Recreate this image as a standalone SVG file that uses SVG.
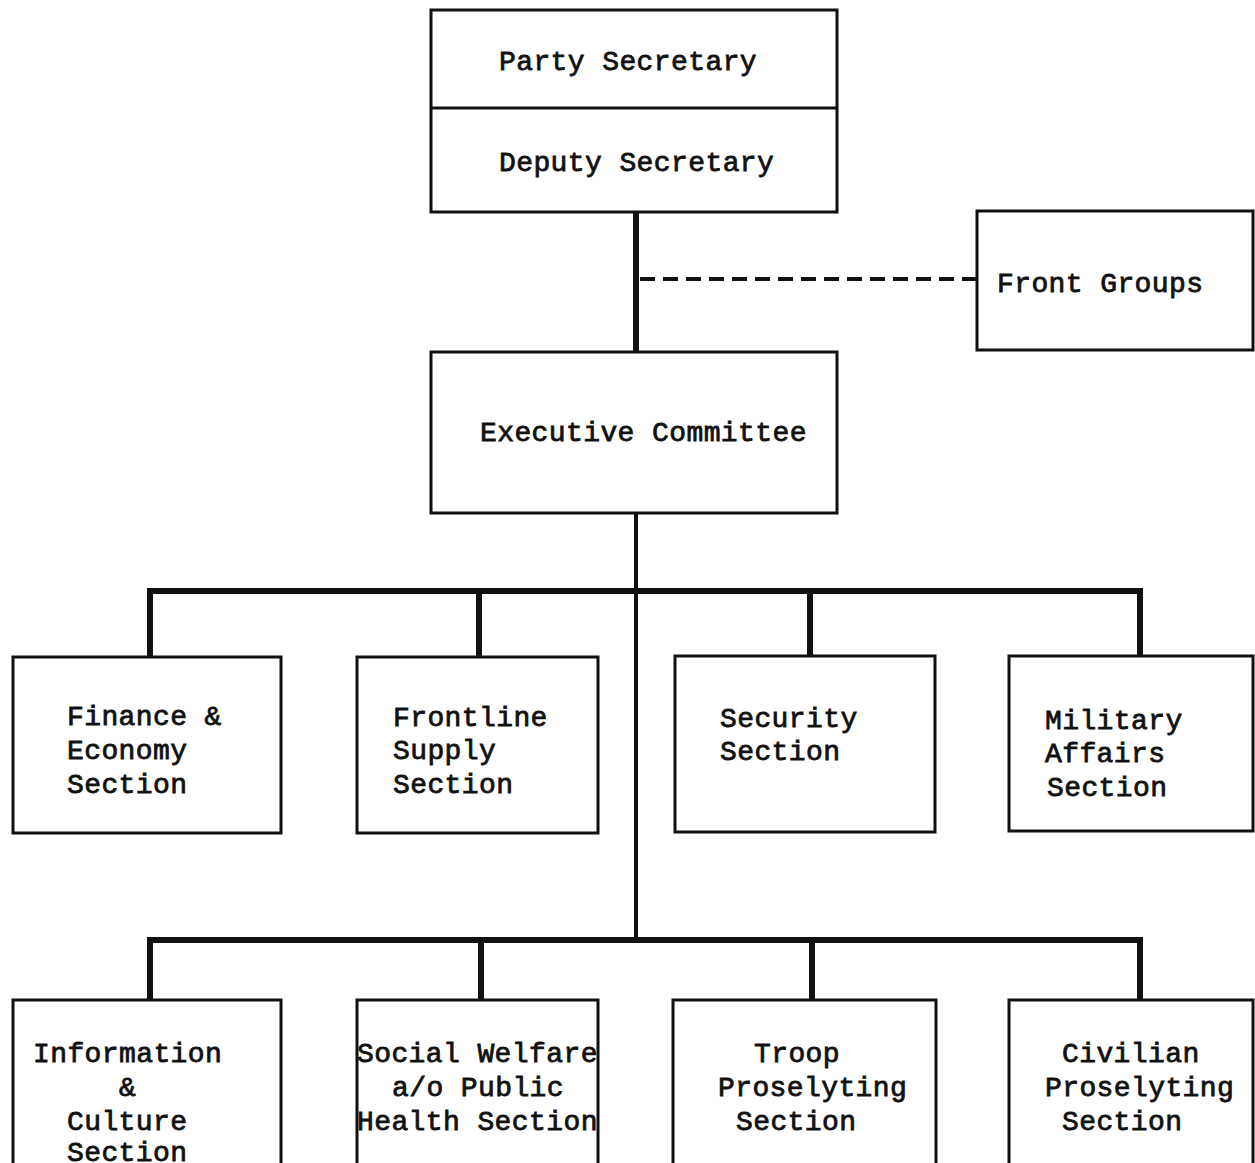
<svg xmlns="http://www.w3.org/2000/svg" width="1255" height="1163" viewBox="0 0 1255 1163">
<style>
.box{fill:#fff;stroke:#111;stroke-width:3}
.t{font-family:"Liberation Mono","Courier New",monospace;font-size:28px;letter-spacing:0.4px;fill:#111;stroke:#111;stroke-width:0.8}
.c{stroke:#111;stroke-width:6;fill:none}
.cn{stroke:#111;stroke-width:4;fill:none}
.d{stroke:#111;stroke-width:4;fill:none;stroke-dasharray:15,8}
</style>
<rect width="1255" height="1163" fill="#fff"/>
<g id="connectors">
<line class="c" x1="636" y1="212" x2="636" y2="352"/>
<line class="d" x1="640" y1="279" x2="977" y2="279"/>
<line class="cn" x1="636" y1="513" x2="636" y2="940"/>
<polyline class="c" points="150,657 150,591 1140,591 1140,656"/>
<line class="c" x1="479" y1="591" x2="479" y2="657"/>
<line class="c" x1="810" y1="591" x2="810" y2="656"/>
<polyline class="c" points="150,1000 150,940 1140,940 1140,1000"/>
<line class="c" x1="481" y1="940" x2="481" y2="1000"/>
<line class="c" x1="812" y1="940" x2="812" y2="1000"/>
</g>
<g id="party-secretary">
<rect class="box" x="431" y="10" width="406" height="202"/>
<line x1="431" y1="108" x2="837" y2="108" stroke="#111" stroke-width="3"/>
<text class="t" x="499" y="70">Party Secretary</text>
</g>
<g id="deputy-secretary">
<text class="t" x="499" y="171">Deputy Secretary</text>
</g>
<g id="front-groups">
<rect class="box" x="977" y="211" width="276" height="139"/>
<text class="t" x="997" y="292">Front Groups</text>
</g>
<g id="executive-committee">
<rect class="box" x="431" y="352" width="406" height="161"/>
<text class="t" x="480" y="441">Executive Committee</text>
</g>
<g id="finance">
<rect class="box" x="13" y="657" width="268" height="176"/>
<text class="t" x="67" y="725">Finance &amp;</text>
<text class="t" x="67" y="759">Economy</text>
<text class="t" x="67" y="793">Section</text>
</g>
<g id="frontline">
<rect class="box" x="357" y="657" width="241" height="176"/>
<text class="t" x="393" y="726">Frontline</text>
<text class="t" x="393" y="759">Supply</text>
<text class="t" x="393" y="793">Section</text>
</g>
<g id="security">
<rect class="box" x="675" y="656" width="260" height="176"/>
<text class="t" x="720" y="727">Security</text>
<text class="t" x="720" y="760">Section</text>
</g>
<g id="military">
<rect class="box" x="1009" y="656" width="244" height="175"/>
<text class="t" x="1045" y="729">Military</text>
<text class="t" x="1045" y="762">Affairs</text>
<text class="t" x="1047" y="796">Section</text>
</g>
<g id="information">
<rect class="box" x="13" y="1000" width="268" height="180"/>
<text class="t" x="33" y="1062">Information</text>
<text class="t" x="119" y="1096">&amp;</text>
<text class="t" x="67" y="1130">Culture</text>
<text class="t" x="67" y="1161">Section</text>
</g>
<g id="social-welfare">
<rect class="box" x="357" y="1000" width="241" height="180"/>
<text class="t" x="357" y="1062">Social Welfare</text>
<text class="t" x="392" y="1096">a/o Public</text>
<text class="t" x="357" y="1130">Health Section</text>
</g>
<g id="troop">
<rect class="box" x="673" y="1000" width="263" height="180"/>
<text class="t" x="754" y="1062">Troop</text>
<text class="t" x="718" y="1096">Proselyting</text>
<text class="t" x="736" y="1130">Section</text>
</g>
<g id="civilian">
<rect class="box" x="1009" y="1000" width="244" height="180"/>
<text class="t" x="1062" y="1062">Civilian</text>
<text class="t" x="1045" y="1096">Proselyting</text>
<text class="t" x="1062" y="1130">Section</text>
</g>
</svg>
